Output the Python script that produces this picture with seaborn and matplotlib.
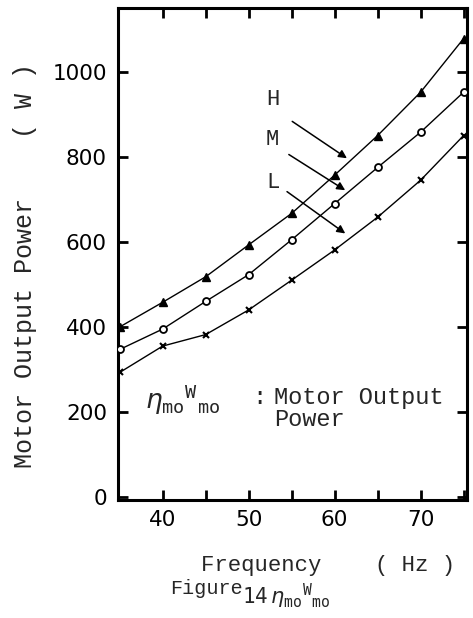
import matplotlib
matplotlib.use("Agg")
import matplotlib.pyplot as plt
import seaborn as sns
import pandas as pd

freq = [35, 40, 45, 50, 55, 60, 65, 70, 75]
power_H = [400, 458, 518, 593, 667, 757, 850, 952, 1078]
power_M = [347, 395, 460, 523, 605, 690, 775, 858, 952]
power_L = [293, 355, 382, 440, 510, 581, 658, 745, 850]
series_names = ["H", "M", "L"]
x_ticks = [40, 50, 60, 70]
y_ticks = [0, 200, 400, 600, 800, 1000]

sns.set_style("ticks")
plt.rcParams["font.family"] = ["DejaVu Sans"]

df = pd.DataFrame({
    "freq": freq * 3,
    "power": power_H + power_M + power_L,
    "level": sum([[n] * len(freq) for n in series_names], []),
})

fig = plt.figure(figsize=(4.73, 6.18), dpi=100)
ax = fig.add_axes([118 / 473, 1 - 500 / 618, 349 / 473, 492 / 618])

sns.lineplot(data=df, x="freq", y="power", units="level", estimator=None,
             color="black", lw=1.0, ax=ax, legend=False)
mk = {"H": dict(marker="^", ms=6, mfc="black", mec="black", mew=1.0),
      "M": dict(marker="o", ms=5, mfc="white", mec="black", mew=1.3),
      "L": dict(marker="x", ms=4, mfc="none", mec="black", mew=1.5)}
for name in series_names:
    sub = df[df["level"] == name]
    ax.plot(sub["freq"], sub["power"], ls="none", zorder=4, **mk[name])

ax.set_xlim(34.8, 75.4)
ax.set_ylim(-7, 1150)
ax.set_xticks(x_ticks)
ax.set_xticks([45, 55, 65, 75], minor=True)
ax.set_yticks(y_ticks)
ax.set_xticklabels([str(v) for v in x_ticks])
ax.set_yticklabels([str(v) for v in y_ticks])
ax.tick_params(axis="both", which="both", direction="in", length=7, width=2,
               top=True, right=True, labelsize=15.5, colors="black")
ax.tick_params(axis="y", pad=8)
ax.tick_params(axis="x", pad=7)
ax.set_xlabel("")
ax.set_ylabel("")
for s in ax.spines.values():
    s.set_linewidth(2.2)
    s.set_color("black")

mono = "Liberation Mono"
# series labels with arrows
ax.text(52.8, 934, "H", family=mono, fontsize=16, ha="center", va="center")
ax.text(52.8, 840, "M", family=mono, fontsize=16, ha="center", va="center")
ax.text(52.8, 739, "L", family=mono, fontsize=16, ha="center", va="center")
arr = dict(arrowstyle="-|>", color="black", lw=1.1, mutation_scale=12)
ax.annotate("", xy=(61.7, 793), xytext=(54.8, 887), arrowprops=arr)
ax.annotate("", xy=(61.5, 718), xytext=(54.4, 809), arrowprops=arr)
ax.annotate("", xy=(61.5, 616), xytext=(54.2, 722), arrowprops=arr)

# in-plot definition text
ax.text(37.9, 228, r"$\eta_{\mathtt{mo}}{}^{\mathtt{W}}{}_{\mathtt{mo}}$",
        fontsize=19, ha="left", va="center")
ax.text(50.4, 235, ":", family=mono, fontsize=17, ha="left", va="center")
ax.text(53.0, 235, "Motor Output", family=mono, fontsize=17,
        ha="left", va="center")
ax.text(53.0, 182, "Power", family=mono, fontsize=17, ha="left", va="center")

# axis titles
fig.text(25 / 473, 1 - 266 / 618, "Motor Output Power    ( W )", family=mono,
         fontsize=18, rotation=90, ha="center", va="center")
fig.text(328 / 473, 1 - 565 / 618, "Frequency    ( Hz )", family=mono,
         fontsize=16, ha="center", va="center")
fig.text(170 / 473, 1 - 588 / 618, "Figure", family=mono, fontsize=14.5,
         ha="left", va="center")
fig.text(242 / 473, 1 - 596 / 618,
         r"$\mathtt{14}\,\eta_{\mathtt{mo}}{}^{\mathtt{W}}{}_{\mathtt{mo}}$",
         fontsize=15, ha="left", va="center")

fig.savefig("out.png", dpi=100, facecolor="white")
